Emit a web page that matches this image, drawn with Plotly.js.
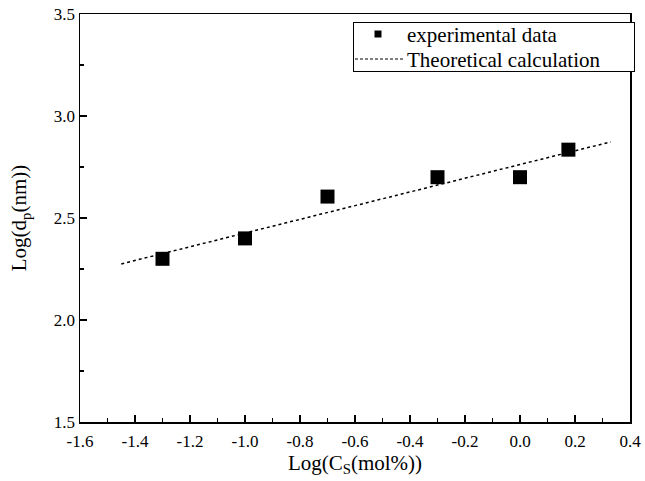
<!DOCTYPE html>
<html>
<head>
<meta charset="utf-8">
<script src="https://cdn.plot.ly/plotly-3.0.1.min.js"></script>
<style>html,body{margin:0;padding:0;background:#fff}#chart{width:645px;height:481px}</style>
</head>
<body>
<div id="chart"></div>
<script>
const expX = [-1.3, -1.0, -0.7, -0.3, 0.0, 0.176];
const expY = [2.30, 2.40, 2.605, 2.70, 2.70, 2.835];
const theoX = [-1.45, 0.33];
const theoY = [2.275, 2.873];
const xTickVals = [-1.6, -1.4, -1.2, -1.0, -0.8, -0.6, -0.4, -0.2, 0.0, 0.2, 0.4];
const xTickText = ['-1.6', '-1.4', '-1.2', '-1.0', '-0.8', '-0.6', '-0.4', '-0.2', '0.0', '0.2', '0.4'];
const yTickVals = [1.5, 2.0, 2.5, 3.0, 3.5];
const yTickText = ['1.5', '2.0', '2.5', '3.0', '3.5'];

const font = '"Liberation Serif"';
const traces = [
  {x: expX, y: expY, type: 'scatter', mode: 'markers', name: 'experimental data',
   marker: {symbol: 'square', size: 14, color: '#000'}},
  {x: theoX, y: theoY, type: 'scatter', mode: 'lines', name: 'Theoretical calculation',
   line: {color: '#000', width: 1.5, dash: 'dot'}}
];
function axisCommon() { return {
  showline: true, linecolor: '#000', linewidth: 1.5, mirror: true,
  ticks: 'inside', ticklen: 7, tickwidth: 1.5, tickcolor: '#000',
  showgrid: false, zeroline: false,
  tickfont: {family: font, size: 17, color: '#000'}
};}
const layout = {
  width: 645, height: 481,
  margin: {l: 80, r: 13, t: 14, b: 59},
  paper_bgcolor: '#fff', plot_bgcolor: '#fff',
  font: {family: font, color: '#000', size: 17},
  showlegend: true,
  legend: {x: 1.005, y: 0.981, xanchor: 'right', yanchor: 'top',
    bordercolor: '#000', borderwidth: 1, bgcolor: '#fff',
    font: {family: font, size: 21, color: '#000'}, itemsizing: 'constant',
    tracegroupgap: 0, itemwidth: 46},
  xaxis: Object.assign(axisCommon(), {
    range: [-1.6, 0.4], tickmode: 'array', tickvals: xTickVals, ticktext: xTickText,
    ticklabelstandoff: 3,
    minor: {dtick: 0.1, tick0: -1.6, ticks: 'inside', ticklen: 4, tickwidth: 1.5, tickcolor: '#000', showgrid: false},
    title: {text: 'Log(C<sub>S</sub>(mol%))', font: {family: font, size: 21, color: '#000'}, standoff: 5}
  }),
  yaxis: Object.assign(axisCommon(), {
    range: [1.5, 3.5], tickmode: 'array', tickvals: yTickVals, ticktext: yTickText,
    minor: {dtick: 0.25, tick0: 1.5, ticks: 'inside', ticklen: 4, tickwidth: 1.5, tickcolor: '#000', showgrid: false},
    title: {text: 'Log(d<sub>p</sub>(nm))', font: {family: font, size: 21, color: '#000'}, standoff: 21}
  })
};
Plotly.newPlot('chart', traces, layout, {displayModeBar: false, staticPlot: true}).then(function(gd){
  // Compact the legend to match the reference box (Origin-style)
  const leg = document.querySelector('.legend');
  if (!leg) return;
  leg.setAttribute('transform', 'translate(353,22)');
  const bg = leg.querySelector('rect.bg');
  if (bg) { bg.setAttribute('width', 281); bg.setAttribute('height', 49); }
  document.querySelectorAll('clipPath[id*="legend"] rect').forEach(r => {
    r.setAttribute('width', 281); r.setAttribute('height', 49);
  });
  const items = leg.querySelectorAll('.traces');
  const ys = [12, 37];
  items.forEach((t, i) => t.setAttribute('transform', 'translate(1,' + ys[i] + ')'));
  leg.querySelectorAll('.legendpoints path').forEach(p => {
    p.setAttribute('d', 'M3.5,3.5H-3.5V-3.5H3.5Z');
    p.setAttribute('transform', 'translate(24,0)');
  });
  leg.querySelectorAll('.legendlines path').forEach(p => {
    p.setAttribute('d', 'M1,0h48');
    p.style.strokeWidth = '1px';
    p.style.strokeDasharray = '3px,2px';
  });
  leg.querySelectorAll('.legendtext').forEach(t => {
    t.setAttribute('x', 53);
    t.querySelectorAll('tspan[x]').forEach(s => s.setAttribute('x', 53));
  });
});
</script>
</body>
</html>
